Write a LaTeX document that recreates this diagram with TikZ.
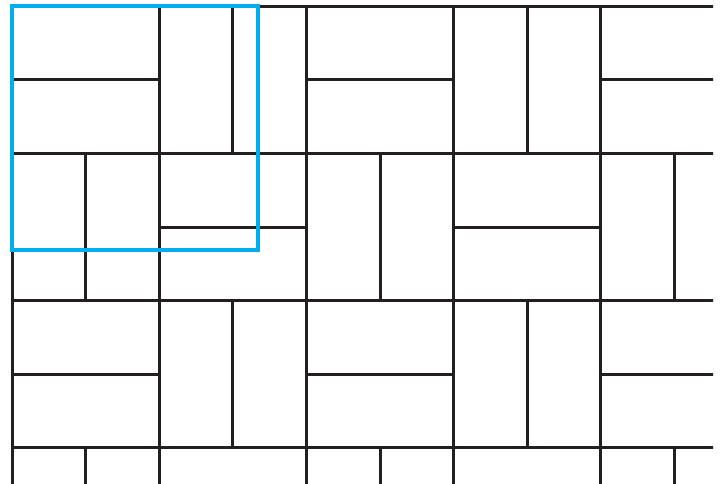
\documentclass[tikz,border=0pt]{standalone}
\definecolor{ink}{HTML}{231F20}
\definecolor{cyanbox}{HTML}{00AEEF}
\begin{document}
\begin{tikzpicture}[x=1pt,y=-1pt,
  gridline/.style={draw=ink,line width=3pt,line cap=rect},
  bluebox/.style={draw=cyanbox,line width=4pt,line join=miter}]
\useasboundingbox (0,0) rectangle (721,484);
\fill[white] (0,0) rectangle (721,484);
\begin{scope}
\clip (0,0) rectangle (713,484);
\foreach \i in {0,...,4}
  \draw[gridline] ({12+147.2*\i},6.3) -- ({12+147.2*\i},500);
\foreach \j in {0,...,3}
  \draw[gridline] (12,{6.3+147.2*\j}) -- (730,{6.3+147.2*\j});
\foreach \i in {0,...,4}{
  \foreach \j in {0,...,3}{
    \pgfmathtruncatemacro\p{mod(\i+\j,2)}
    \ifnum\p=0
      \draw[gridline] ({12+147.2*\i},{6.3+147.2*\j+73.6}) -- ({12+147.2*(\i+1)},{6.3+147.2*\j+73.6});
    \else
      \draw[gridline] ({12+147.2*\i+73.6},{6.3+147.2*\j}) -- ({12+147.2*\i+73.6},{6.3+147.2*(\j+1)});
    \fi
  }
}
\end{scope}
\draw[bluebox] (12,6.3) rectangle (258,250);
\end{tikzpicture}
\end{document}
